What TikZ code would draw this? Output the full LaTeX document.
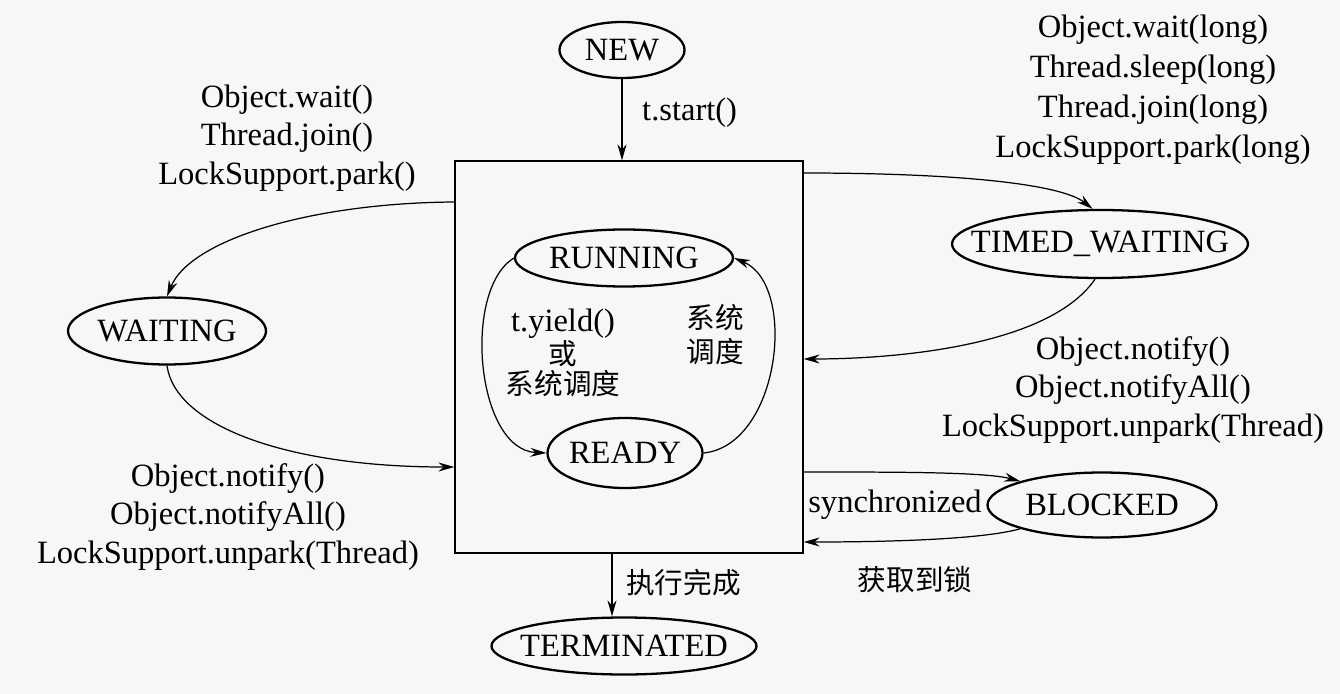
\documentclass[tikz,border=0pt]{standalone}
\usepackage{fontspec}
\setmainfont{Liberation Serif}
\newfontfamily\cjk[Scale=0.88]{Noto Sans CJK SC}
\usetikzlibrary{shapes.geometric,arrows.meta}
\tikzset{
  state/.style={ellipse,draw,line width=1.3pt,inner sep=0pt},
  trans/.style={-{Stealth[length=3.2mm,width=1.8mm]},line width=0.7pt},
  lbl/.style={align=center,font=\fontsize{18.5}{21.8}\selectfont},
}

\begin{document}
\begin{tikzpicture}[x=0.2mm,y=-0.2mm,font=\fontsize{18.5}{21.8}\selectfont]
    \fill[black!3] (0,0) rectangle (1340,694);
    \useasboundingbox (0,0) rectangle (1340,694);

    % states
    \node[draw,line width=0.7pt,minimum width=69.6mm,minimum height=78.4mm,inner sep=0pt] (box) at (629,357) {};
    \node[state,minimum width=25mm,minimum height=11.2mm,label=center:NEW] (new) at (622,50) {};
    \node[state,minimum width=43.6mm,minimum height=11.4mm,label=center:RUNNING] (running) at (624,258) {};
    \node[state,minimum width=31mm,minimum height=14mm,label=center:READY] (ready) at (625,453) {};
    \node[state,minimum width=39.6mm,minimum height=13.4mm,label=center:WAITING] (waiting) at (167,331) {};
    \node[state,minimum width=59.2mm,minimum height=13.6mm,label=center:TIMED\_WAITING] (timed) at (1100,244) {};
    \node[state,minimum width=45.8mm,minimum height=13mm,label=center:BLOCKED] (blocked) at (1102,505) {};
    \node[state,minimum width=53mm,minimum height=11.4mm,label=center:TERMINATED] (term) at (624,646) {};

    % labels
    \node[lbl,anchor=west] (startlbl) at (636,113) {t.start()};
    \node[lbl] (waitlbl) at (287,138) {Object.wait()\\Thread.join()\\LockSupport.park()};
    \node[lbl] (notifylbl) at (228,517) {Object.notify()\\Object.notifyAll()\\LockSupport.unpark(Thread)};
    \node[align=center,font=\fontsize{18.5}{22.7}\selectfont] (timedlbl) at (1153,90) {Object.wait(long)\\Thread.sleep(long)\\Thread.join(long)\\LockSupport.park(long)};
    \node[lbl] (tnotifylbl) at (1133,390) {Object.notify()\\Object.notifyAll()\\LockSupport.unpark(Thread)};
    \node[align=center,font=\fontsize{18.5}{17.6}\selectfont] (yieldlbl) at (563,353) {t.yield()\\{\cjk 或}\\{\cjk 系统调度}};
    \node[align=center,font=\fontsize{18.5}{19.3}\selectfont] (schedlbl) at (715,335) {{\cjk 系统}\\{\cjk 调度}};
    \node[lbl] (synclbl) at (895,505) {synchronized};
    \node[lbl] (locklbl) at (915,580) {\cjk 获取到锁};
    \node[lbl,anchor=west] (donelbl) at (620,583) {\cjk 执行完成};

    % transitions
    \draw[trans] (new.south) -- (new.south |- box.north);
    \draw[trans] (running.west) .. controls (462,290) and (476,450) .. (ready.west);
    \draw[trans] (ready.east) .. controls (780,445) and (798,285) .. (running.east);
    \draw[trans] (box.west |- 0,202) .. controls (310,203) and (190,240) .. (waiting.north);
    \draw[trans] (waiting.south) .. controls (175,425) and (285,467) .. (box.west |- 0,467);
    \draw[trans] (box.east |- 0,173) .. controls (950,173) and (1060,183) .. ([xshift=-1.5mm]timed.north);
    \draw[trans] ([xshift=-1mm]timed.south) .. controls (1050,345) and (900,359) .. (box.east |- 0,359);
    \draw[trans] (box.east |- 0,472) .. controls (900,472) and (985,472) .. (blocked.north west);
    \draw[trans] (blocked.south west) .. controls (980,540) and (880,542) .. (box.east |- 0,542);
    \draw[trans] (612,0 |- box.south) -- (612,0 |- term.north);

\end{tikzpicture}
\end{document}
